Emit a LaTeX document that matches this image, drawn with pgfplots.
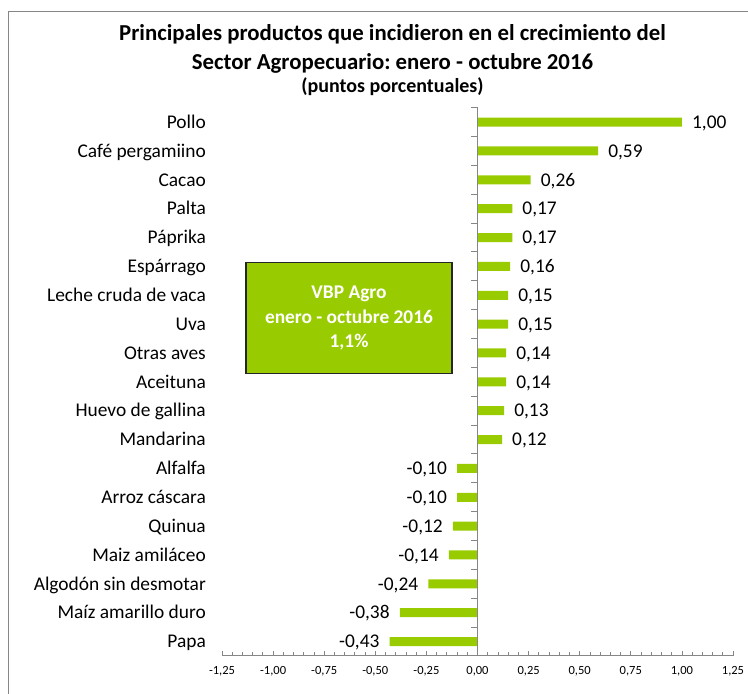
\documentclass[border=0pt]{standalone}
\usepackage{fontspec}
\setmainfont{Carlito}
\usepackage{pgfplots}
\pgfplotsset{compat=1.18}
\definecolor{barg}{HTML}{99CC00}
\definecolor{axg}{HTML}{868686}
\pgfkeys{/pgf/number format/.cd, use comma, fixed, fixed zerofill, precision=2, assume math mode=true}
\frenchspacing
\begin{document}
\begin{tikzpicture}
\path[use as bounding box] (0,0) rectangle (748bp,694bp);
\draw[axg, line width=1bp] (8bp,0) -- (8bp,682bp) -- (748bp,682bp);
\node[anchor=base, inner sep=0pt, font=\bfseries\fontsize{22.8bp}{26bp}\selectfont] at (392.5bp,653bp) {Principales productos que incidieron en el crecimiento del};
\node[anchor=base, inner sep=0pt, font=\bfseries\fontsize{22.8bp}{26bp}\selectfont] at (392.5bp,624.7bp) {Sector Agropecuario: enero - octubre 2016};
\node[anchor=base, inner sep=0pt, font=\bfseries\fontsize{20bp}{22bp}\selectfont] at (392.5bp,601.3bp) {(puntos porcentuales)};
\begin{axis}[
  at={(222bp,38bp)}, anchor=south west,
  scale only axis, width=511bp, height=548.3bp,
  xmin=-1.25, xmax=1.25, ymin=-0.5, ymax=18.5,
  enlargelimits=false, clip=false,
  xbar, bar width=9bp,
  axis x line*=bottom, axis y line*=left,
  x axis line style={-, axg, line width=1bp},
  y axis line style={draw=none},
  xtick={-1.25,-1,-0.75,-0.5,-0.25,0,0.25,0.5,0.75,1,1.25},
  minor x tick num=4,
  tick align=inside,
  major tick length=5bp, minor tick length=3.5bp,
  xtick style={axg, line width=0.8bp},
  minor tick style={axg, line width=0.8bp},
  xticklabel style={font=\fontsize{12.5bp}{14bp}\selectfont, text height=8bp, text depth=0pt, inner sep=0pt, yshift=-10bp},
  ytick={0,...,18},
  yticklabels={Papa, Maíz amarillo duro, Algodón sin desmotar, Maiz amiláceo, Quinua, Arroz cáscara, Alfalfa, Mandarina, Huevo de gallina, Aceituna, Otras aves, Uva, Leche cruda de vaca, Espárrago, Páprika, Palta, Cacao, Café pergamiino, Pollo},
  ytick style={draw=none},
  yticklabel style={font=\fontsize{19.4bp}{22bp}\selectfont, anchor=east, inner sep=0pt, xshift=-16bp, text height=12.5bp, text depth=0pt},
  point meta=x,
  nodes near coords,
  nodes near coords style={font=\fontsize{19.4bp}{22bp}\selectfont, inner xsep=10bp, inner ysep=0pt, text height=12.5bp, text depth=0pt},
]
\addplot[fill=barg, draw=none] coordinates {
  (-0.43,0) (-0.38,1) (-0.24,2) (-0.14,3) (-0.12,4) (-0.10,5) (-0.10,6)
  (0.12,7) (0.13,8) (0.14,9) (0.14,10) (0.15,11) (0.15,12) (0.16,13)
  (0.17,14) (0.17,15) (0.26,16) (0.59,17) (1.00,18)
};
\draw[axg, line width=1bp] (axis cs:0,-0.5) -- (axis cs:0,18.5);
\pgfplotsinvokeforeach{0.5,1.5,...,18.5}{
  \draw[axg, line width=1bp] (axis cs:0,#1) -- ([xshift=-7bp]axis cs:0,#1);
}
\end{axis}
\node[draw=black!85, line width=1.2bp, fill=barg, minimum width=206bp, minimum height=111bp, text=white, align=center, font=\bfseries\fontsize{19.4bp}{24.5bp}\selectfont] at (349bp,375.6bp) {VBP Agro\\enero - octubre 2016\\1,1\%};
\end{tikzpicture}
\end{document}
